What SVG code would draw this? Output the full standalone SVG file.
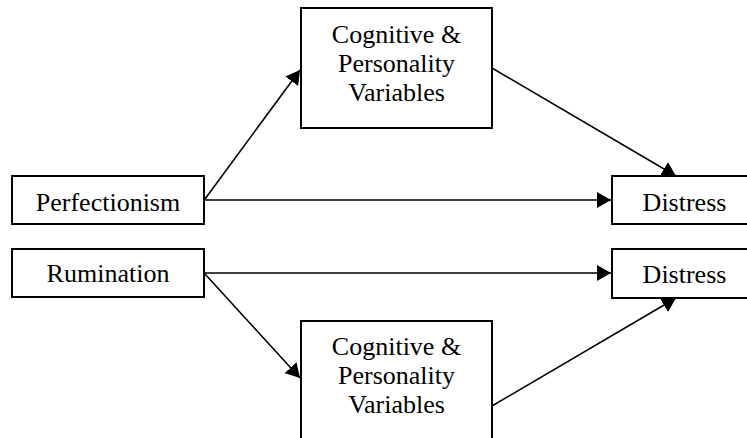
<svg xmlns="http://www.w3.org/2000/svg" width="747" height="438" viewBox="0 0 747 438">
<style>
.box{fill:#fff;stroke:#000;stroke-width:2}
.t{font-family:"Liberation Serif","Times New Roman",serif;font-size:26px;fill:#000;text-anchor:middle}
.c{stroke:#000;stroke-width:1.6;fill:none;marker-end:url(#ah)}
</style>
<defs>
<marker id="ah" markerUnits="userSpaceOnUse" markerWidth="14" markerHeight="16" refX="14" refY="8" orient="auto">
<path d="M0,0 L14,8 L0,16 Z" fill="#000"/>
</marker>
</defs>
<g id="connectors">
<line class="c" x1="205" y1="199" x2="300" y2="70"/>
<line class="c" x1="205" y1="200" x2="611" y2="200"/>
<line class="c" x1="492" y1="68" x2="676" y2="176"/>
<line class="c" x1="205" y1="273" x2="611" y2="273"/>
<line class="c" x1="205" y1="274" x2="300" y2="378"/>
<line class="c" x1="492" y1="406" x2="676" y2="298"/>
</g>
<g id="perfectionism">
<rect class="box" x="12" y="176" width="192" height="48"/>
<text class="t" x="108" y="211">Perfectionism</text>
</g>
<g id="rumination">
<rect class="box" x="12" y="249" width="192" height="48"/>
<text class="t" x="108" y="282">Rumination</text>
</g>
<g id="cog-top">
<rect class="box" x="301" y="8" width="191" height="120"/>
<text class="t" x="396.5" y="43">Cognitive &amp;</text>
<text class="t" x="396.5" y="72">Personality</text>
<text class="t" x="396.5" y="101">Variables</text>
</g>
<g id="cog-bottom">
<rect class="box" x="301" y="321" width="191" height="120"/>
<text class="t" x="396.5" y="355">Cognitive &amp;</text>
<text class="t" x="396.5" y="384">Personality</text>
<text class="t" x="396.5" y="413">Variables</text>
</g>
<g id="distress-top">
<rect class="box" x="612" y="176" width="150" height="48"/>
<text class="t" x="684.5" y="211">Distress</text>
</g>
<g id="distress-bottom">
<rect class="box" x="612" y="249" width="150" height="49"/>
<text class="t" x="684.5" y="283">Distress</text>
</g>
</svg>
